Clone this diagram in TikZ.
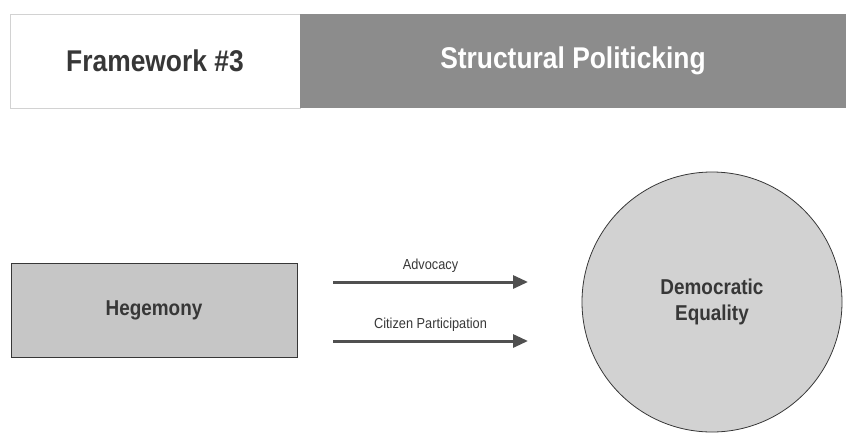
\documentclass[tikz,border=0pt]{standalone}
\usepackage{fontspec}
\setmainfont{Liberation Sans}[FakeStretch=0.88]
\usepackage{tikz}
\usetikzlibrary{arrows.meta, positioning, calc, shapes}
\usepackage{xcolor}
\definecolor{headgray}{RGB}{140,140,140}
\definecolor{boxgray}{RGB}{198,198,198}
\definecolor{ringgray}{RGB}{210,210,210}
\definecolor{inkgray}{RGB}{55,55,55}
\definecolor{linegray}{RGB}{80,80,80}

\tikzset{
  headbox/.style={rectangle, minimum height=94pt, inner sep=0pt, font=\fontsize{30}{32}\selectfont\bfseries},
  flowarrow/.style={-{Triangle[length=15pt,width=13pt]}, line width=3pt, linegray},
  arrowlabel/.style={font=\fontsize{14.5}{16}\selectfont, inkgray}
}

\begin{document}
\begin{tikzpicture}[x=1pt, y=-1pt]
  \useasboundingbox (0,0) rectangle (846,434);
  % header
  \node[headbox, draw=gray!35, fill=white, text=inkgray, minimum width=290pt] (frame) at (155,61) {Framework \#3};
  \node[headbox, fill=headgray, text=white, minimum width=546pt] (title) at (573,61) {Structural Politicking};
  % left box and circle
  \node[rectangle, draw=inkgray, fill=boxgray, minimum width=286pt, minimum height=94pt, line width=0.8pt,
        font=\fontsize{21.5}{23}\selectfont\bfseries, text=inkgray] (hege) at (154,310) {Hegemony};
  \node[circle, draw=inkgray, fill=ringgray, minimum size=260pt, line width=0.8pt, align=center,
        font=\fontsize{21.5}{26}\selectfont\bfseries, text=inkgray] (demo) at (712,302) {Democratic\\Equality};
  % arrows
  \coordinate (advA) at (333,282);
  \coordinate (advB) at (528,282);
  \coordinate (citA) at (333,341);
  \coordinate (citB) at (528,341);
  \draw[flowarrow] (advA) -- (advB) node[arrowlabel, midway, above=5pt] (advlbl) {Advocacy};
  \draw[flowarrow] (citA) -- (citB) node[arrowlabel, midway, above=5pt] (citlbl) {Citizen Participation};
\end{tikzpicture}
\end{document}
